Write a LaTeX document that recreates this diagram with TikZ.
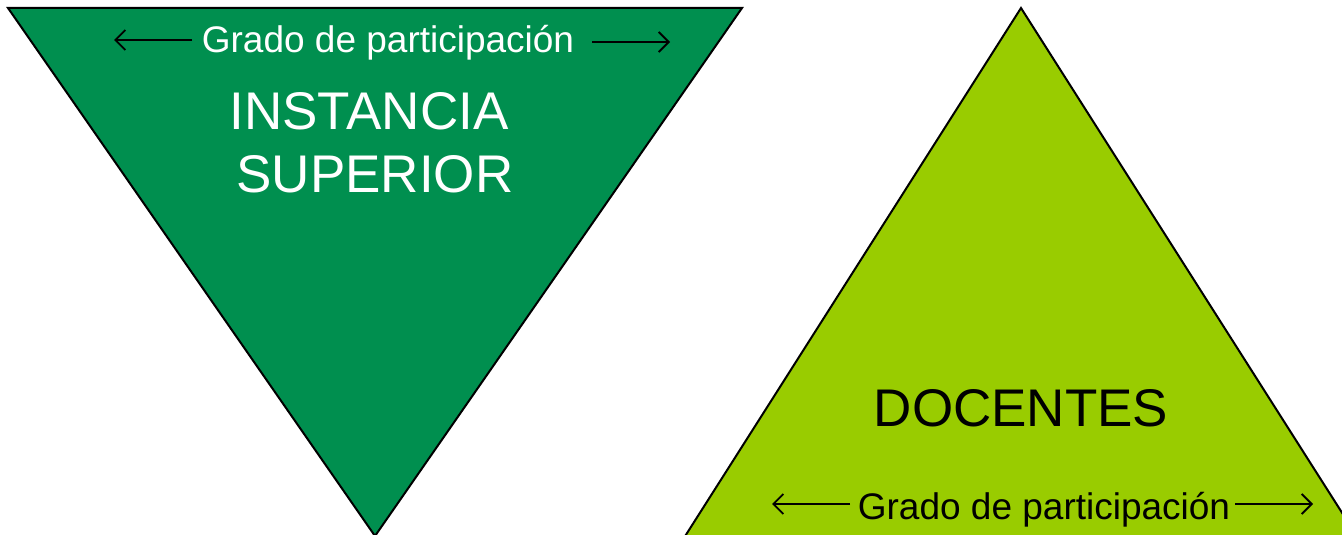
\documentclass[tikz,border=0pt]{standalone}
\usepackage{fontspec}
\setmainfont{Liberation Sans}
\usetikzlibrary{arrows.meta}
\definecolor{darkg}{RGB}{0,143,79}
\definecolor{lightg}{RGB}{153,204,0}
\tikzset{
  tri/.style={draw=black,line width=2pt,line join=miter},
  lbl/.style={anchor=base,inner sep=0pt,font=\fontsize{37}{37}\selectfont},
  big/.style={anchor=base,inner sep=0pt,font=\fontsize{53}{53}\selectfont},
  arr/.style={line width=1.8pt,-{Straight Barb[length=10pt,width=20pt]}}
}
\begin{document}
\begin{tikzpicture}[x=1pt,y=-1pt]
\useasboundingbox (0,0) rectangle (1342,535);
\begin{scope}
\clip (0,0) rectangle (1342,535);
\draw[tri,fill=darkg] (8,8) -- (742,8) -- (375,536) -- cycle;
\draw[tri,fill=lightg] (1021,8) -- (1360,541) -- (682,541) -- cycle;
\end{scope}
\node[lbl,text=white] (t1) at (388,53) {Grado de participación};
\coordinate (a1s) at (192,40);
\coordinate (a1e) at (114,40);
\coordinate (a2s) at (592,42);
\coordinate (a2e) at (670,42);
\draw[arr] (a1s) -- (a1e);
\draw[arr] (a2s) -- (a2e);
\node[big,text=white] (is) at (369,129) {INSTANCIA};
\node[big,text=white] (sp) at (375,192) {SUPERIOR};
\node[big,text=black] (doc) at (1021,426) {DOCENTES};
\node[lbl,text=black] (t2) at (1044,519) {Grado de participación};
\coordinate (b1s) at (850,504);
\coordinate (b1e) at (772,504);
\coordinate (b2s) at (1235,504);
\coordinate (b2e) at (1313,504);
\draw[arr] (b1s) -- (b1e);
\draw[arr] (b2s) -- (b2e);
\end{tikzpicture}
\end{document}
